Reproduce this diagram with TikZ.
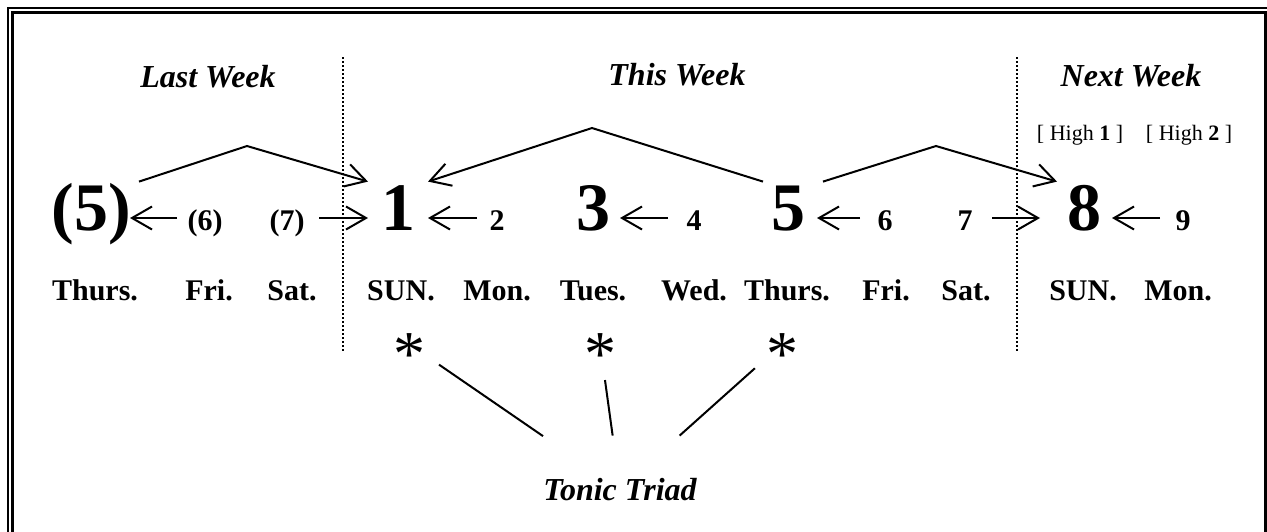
\documentclass[tikz,border=0pt]{standalone}
\usepackage{fontspec}
\setmainfont{Liberation Serif}
\usetikzlibrary{arrows.meta}

\tikzset{
  week/.style={font=\fontsize{16}{19}\selectfont\bfseries\itshape, anchor=base, inner sep=0pt},
  dayname/.style={font=\fontsize{15}{18}\selectfont\bfseries, anchor=base, inner sep=0pt},
  bignum/.style={font=\fontsize{34}{40}\selectfont\bfseries, anchor=base, text height=12pt, text depth=0pt, inner xsep=0pt, inner ysep=12pt},
  smallnum/.style={font=\fontsize{15}{18}\selectfont\bfseries, anchor=base, text height=12pt, text depth=0pt, inner sep=0pt},
  highlbl/.style={font=\fontsize{11}{13}\selectfont, anchor=base, inner sep=0pt},
  aster/.style={font=\fontsize{32}{38}\selectfont, circle, minimum size=36pt, inner sep=0pt, text height=31pt, text depth=0pt},
  triadlbl/.style={font=\fontsize{16}{19}\selectfont\bfseries\itshape, anchor=base, text height=11pt, text depth=0pt, inner xsep=0pt, inner ysep=21pt},
  arr/.style={-{Straight Barb[length=10pt,width=11.5pt]}, line width=1pt},
  leg/.style={line width=1pt},
  divider/.style={line width=1pt, dash pattern=on 1pt off 1pt},
  frameline/.style={line width=1.3pt}
}

\begin{document}
\begin{tikzpicture}[x=0.5pt, y=-0.5pt]
  \useasboundingbox (0,0) rectangle (1267,531);
  \clip (0,0) rectangle (1267,531);
  \draw[frameline] (8,8) rectangle (1275,545);
  \draw[frameline] (12.5,12.5) rectangle (1265.5,540);
  \draw[divider] (343,57) -- (343,353);
  \draw[divider] (1017,57) -- (1017,353);

  \node[week] (lastwk) at (208,87) {Last Week};
  \node[week] (thiswk) at (677,85) {This Week};
  \node[week] (nextwk) at (1131,86) {Next Week};
  \node[highlbl] (highone) at (1080,140) {[ High \textbf{1} ]};
  \node[highlbl] (hightwo) at (1189,140) {[ High \textbf{2} ]};

  % scale degrees
  \node[bignum] (fiveL) at (91,230) {(5)};
  \node[smallnum] (sixL) at (205,230) {(6)};
  \node[smallnum] (sevenL) at (287,230) {(7)};
  \node[bignum] (one) at (398,230) {1};
  \node[smallnum] (two) at (497,230) {2};
  \node[bignum] (three) at (593,230) {3};
  \node[smallnum] (four) at (694,230) {4};
  \node[bignum] (five) at (788,230) {5};
  \node[smallnum] (six) at (885,230) {6};
  \node[smallnum] (seven) at (965,230) {7};
  \node[bignum] (eight) at (1084,230) {8};
  \node[smallnum] (nine) at (1183,230) {9};

  % days
  \node[dayname] (thuL) at (95,300) {Thurs.};
  \node[dayname] (friL) at (209,300) {Fri.};
  \node[dayname] (satL) at (292,300) {Sat.};
  \node[dayname] (sun) at (401,300) {SUN.};
  \node[dayname] (mon) at (497,300) {Mon.};
  \node[dayname] (tue) at (593,300) {Tues.};
  \node[dayname] (wed) at (694,300) {Wed.};
  \node[dayname] (thu) at (787,300) {Thurs.};
  \node[dayname] (fri) at (886,300) {Fri.};
  \node[dayname] (sat) at (966,300) {Sat.};
  \node[dayname] (sunN) at (1083,300) {SUN.};
  \node[dayname] (monN) at (1178,300) {Mon.};

  \draw[arr] ([xshift=-14pt]sixL.center) -- ([xshift=19.5pt]fiveL.center);
  \draw[arr] ([xshift=16pt]sevenL.center) -- ([xshift=-15pt]one.center);
  \draw[arr] ([xshift=-10pt]two.center) -- ([xshift=15pt]one.center);
  \draw[arr] ([xshift=-13pt]four.center) -- ([xshift=13.5pt]three.center);
  \draw[arr] ([xshift=-12.5pt]six.center) -- ([xshift=14.5pt]five.center);
  \draw[arr] ([xshift=13.5pt]seven.center) -- ([xshift=-22pt]eight.center);
  \draw[arr] ([xshift=-11.5pt]nine.center) -- ([xshift=14pt]eight.center);

  \coordinate (apexA) at (247,146);
  \coordinate (apexB) at (592,128);
  \coordinate (apexC) at (936,146);
  \draw[arr] ([xshift=24pt]fiveL.north) -- (apexA) -- ([xshift=-15pt]one.north);
  \draw[arr] ([xshift=-12.5pt]five.north) -- (apexB) -- ([xshift=15pt]one.north);
  \draw[arr] ([xshift=17.5pt]five.north) -- (apexC) -- ([xshift=-13.5pt]eight.north);

  % tonic triad
  \node[aster] (astA) at (409,344) {*};
  \node[aster] (astB) at (600,344) {*};
  \node[aster] (astC) at (782,344) {*};
  \node[triadlbl] (triad) at (620,500) {Tonic Triad};
  \draw[leg] (astA) -- (triad);
  \draw[leg] (astB) -- (triad);
  \draw[leg] (astC) -- (triad);
\end{tikzpicture}
\end{document}
